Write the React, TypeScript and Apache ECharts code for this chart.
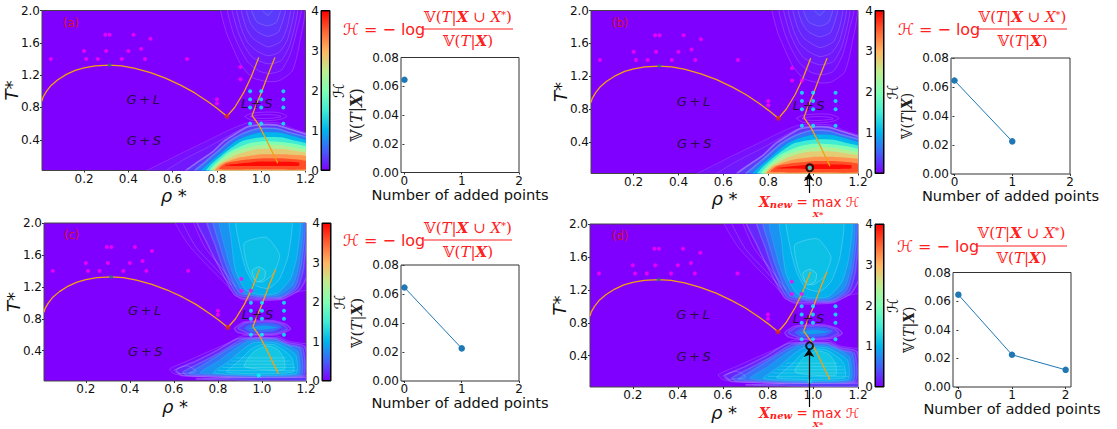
import React, { useEffect, useRef } from "react";
import * as echarts from "echarts";

type P = [number, number];
type Ring = { level: number; pts: P[]; stroke?: number; w?: number };

const rainbowStops = ["#8000ff", "#4062fa", "#00b5eb", "#40ecd4", "#80ffb4", "#bfec8e", "#ffb562", "#ff6232", "#ff0000"];
const rhoTicks = [0.2, 0.4, 0.6, 0.8, 1.0, 1.2];
const tempTicks = [0.4, 0.8, 1.2, 1.6, 2.0];
const cbarTicks = [0, 1, 2, 3, 4];
const addedTicks = [0, 1, 2];
const varTicks = [0, 0.02, 0.04, 0.06, 0.08];
const varianceRun = [0.0645, 0.0225, 0.012];

const magentaPts: P[] = [[0.05,1.4],[0.2,1.5],[0.21,1.4],[0.262,1.4],[0.296,1.7],[0.316,1.7],[0.3,1.5],[0.37,1.4],[0.4,1.5],[0.423,1.7],[0.458,1.525],[0.475,1.4],[0.5,1.65],[0.665,1.4],[0.8,0.9],[0.8,0.85],[0.906,1.3],[0.906,1.15]];
const magentaExtra: P[] = [[0.95,1.15]];
const cyanPts: P[] = [[0.95,1.0],[1.0,1.0],[1.1,1.0],[0.95,0.9],[1.0,0.9],[1.1,0.9],[0.95,0.8],[1.0,0.8],[1.1,0.8],[0.95,0.6],[1.0,0.6],[1.1,0.6]];
const cyanExtra: P[] = [[0.985,0.09]];
const criticalPt: P = [0.315, 1.325];
const triplePt: P = [0.845, 0.69];
const binodal: P[] = [[0.01,0.88],[0.015,0.93],[0.03,1.0],[0.05,1.07],[0.08,1.14],[0.12,1.21],[0.16,1.26],[0.2,1.29],[0.25,1.315],[0.315,1.325],[0.37,1.315],[0.43,1.285],[0.5,1.23],[0.57,1.16],[0.64,1.07],[0.7,0.98],[0.76,0.87],[0.8,0.79],[0.845,0.69]];
const liquidus: P[] = [[0.845,0.69],[0.88,0.8],[0.92,0.98],[0.955,1.18],[0.989,1.42]];
const solidus: P[] = [[1.062,1.42],[1.03,1.2],[1.0,0.98],[0.975,0.82],[0.959,0.7],[0.99,0.58],[1.02,0.42],[1.05,0.25],[1.075,0.11]];
const phaseLabels: { t: string; p: P }[] = [{ t: "G\u2009+\u2009L", p: [0.467, 0.9] }, { t: "G\u2009+\u2009S", p: [0.47, 0.39] }, { t: "L\u2009+\u2009S", p: [0.98, 0.85] }];

const fieldA: Ring[] = [
  { level: 0.08, stroke: 0.2, pts: [[0.42,-0.1],[0.6,0.18],[0.75,0.38],[0.87,0.54],[0.94,0.61],[1.08,0.61],[1.14,0.54],[1.2,0.49],[1.3,0.42],[1.3,-0.1]] },
  { level: 0.12, stroke: 0.2, pts: [[0.52,-0.1],[0.64,0.14],[0.76,0.31],[0.84,0.43],[0.9,0.52],[0.96,0.59],[1.07,0.59],[1.13,0.53],[1.2,0.48],[1.3,0.41],[1.3,-0.1]] },
  { level: 0.3, stroke: 0.3, w: 1.6, pts: [[0.62,-0.1],[0.66,0.02],[0.7,0.1],[0.78,0.25],[0.83,0.38],[0.875,0.46],[0.94,0.56],[1.0,0.585],[1.07,0.58],[1.13,0.53],[1.2,0.47],[1.3,0.4],[1.3,-0.1]] },
  { level: 0.6, stroke: 0.2, w: 1.6, pts: [[0.66,-0.1],[0.7,0.02],[0.735,0.1],[0.8,0.25],[0.855,0.38],[0.91,0.47],[0.97,0.53],[1.0,0.545],[1.07,0.54],[1.13,0.49],[1.2,0.44],[1.3,0.38],[1.3,-0.1]] },
  { level: 1.0, pts: [[0.7,-0.1],[0.73,0.02],[0.76,0.1],[0.825,0.25],[0.883,0.38],[0.94,0.45],[1.0,0.49],[1.08,0.49],[1.14,0.45],[1.2,0.4],[1.3,0.33],[1.3,-0.1]] },
  { level: 1.5, pts: [[0.72,-0.1],[0.75,0.02],[0.775,0.1],[0.84,0.25],[0.91,0.38],[0.97,0.42],[1.02,0.435],[1.09,0.43],[1.15,0.39],[1.2,0.36],[1.3,0.3],[1.3,-0.1]] },
  { level: 2.0, pts: [[0.74,-0.1],[0.765,0.02],[0.79,0.1],[0.855,0.25],[0.94,0.35],[1.0,0.38],[1.08,0.375],[1.15,0.35],[1.2,0.32],[1.3,0.26],[1.3,-0.1]] },
  { level: 2.4, pts: [[0.75,-0.1],[0.775,0.02],[0.8,0.1],[0.87,0.24],[0.95,0.31],[1.02,0.34],[1.1,0.33],[1.2,0.28],[1.3,0.22],[1.3,-0.1]] },
  { level: 2.8, pts: [[0.76,-0.1],[0.785,0.02],[0.81,0.1],[0.885,0.21],[0.97,0.28],[1.03,0.29],[1.1,0.285],[1.2,0.24],[1.3,0.18],[1.3,-0.1]] },
  { level: 3.2, pts: [[0.77,-0.1],[0.79,0.02],[0.82,0.1],[0.9,0.18],[1.0,0.22],[1.1,0.22],[1.2,0.2],[1.3,0.14],[1.3,-0.1]] },
  { level: 3.6, pts: [[0.81,0.04],[0.84,0.11],[0.92,0.15],[1.0,0.17],[1.1,0.17],[1.2,0.14],[1.22,0.04],[1.0,0.035]] },
  { level: 3.95, pts: [[0.84,0.09],[1.0,0.13],[1.17,0.12],[1.17,0.08],[1.0,0.075],[0.84,0.08]] },
  { level: 0.04, stroke: 0.25, pts: [[0.82,2.1],[0.84,1.75],[0.87,1.55],[0.91,1.32],[0.96,1.17],[1.03,1.12],[1.08,1.13],[1.14,1.25],[1.17,1.55],[1.19,2.1]] },
  { level: 0.08, stroke: 0.25, pts: [[0.85,2.1],[0.87,1.75],[0.9,1.55],[0.94,1.36],[0.99,1.25],[1.04,1.22],[1.09,1.26],[1.13,1.45],[1.16,1.75],[1.18,2.1]] },
  { level: 0.12, stroke: 0.25, pts: [[0.87,2.1],[0.89,1.78],[0.92,1.58],[0.96,1.42],[1.03,1.34],[1.09,1.38],[1.13,1.58],[1.16,2.1]] },
  { level: 0.16, stroke: 0.25, pts: [[0.89,2.1],[0.91,1.78],[0.94,1.6],[0.98,1.5],[1.03,1.44],[1.08,1.48],[1.12,1.65],[1.145,2.1]] },
  { level: 0.2, stroke: 0.25, pts: [[0.91,2.1],[0.93,1.8],[0.96,1.66],[1.03,1.55],[1.09,1.62],[1.12,1.82],[1.13,2.1]] },
  { level: 0.25, stroke: 0.25, pts: [[0.93,2.1],[0.95,1.85],[0.98,1.74],[1.03,1.68],[1.08,1.74],[1.11,2.1]] },
  { level: 0.3, stroke: 0.25, pts: [[0.95,2.1],[0.98,1.86],[1.03,1.81],[1.07,1.86],[1.09,2.1]] },
  { level: 0.34, stroke: 0.25, pts: [[0.98,2.1],[1.03,1.94],[1.07,2.1]] },
];
const linesA: P[][] = [
  [[0.925,0.69],[0.96,0.73],[1.07,0.74],[1.115,0.69],[1.07,0.645],[0.96,0.64],[0.925,0.69]],
  [[0.95,0.69],[1.0,0.71],[1.07,0.705],[1.09,0.685],[1.03,0.665],[0.97,0.67],[0.95,0.69]],
];

const fieldC: Ring[] = [
  { level: 0.04, stroke: 0.22, pts: [[0.6,2.1],[0.66,1.75],[0.74,1.5],[0.83,1.25],[0.91,1.04],[1.09,1.04],[1.14,1.12],[1.3,1.25],[1.3,2.1]] },
  { level: 0.2, stroke: 0.2, w: 1.4, pts: [[0.7,2.1],[0.75,1.75],[0.81,1.42],[0.875,1.1],[0.92,1.05],[1.09,1.05],[1.17,1.16],[1.2,1.3],[1.3,2.1]] },
  { level: 0.4, stroke: 0.15, w: 1.4, pts: [[0.75,2.1],[0.79,1.7],[0.83,1.4],[0.89,1.1],[1.08,1.06],[1.16,1.18],[1.19,1.45],[1.19,2.1]] },
  { level: 0.6, stroke: 0.12, w: 1.2, pts: [[0.78,2.1],[0.81,1.7],[0.85,1.38],[0.9,1.12],[1.08,1.07],[1.15,1.2],[1.18,1.5],[1.185,2.1]] },
  { level: 0.8, stroke: 0.12, pts: [[0.81,2.1],[0.84,1.6],[0.87,1.35],[0.92,1.12],[1.07,1.09],[1.14,1.22],[1.17,1.5],[1.175,2.1]] },
  { level: 0.98, stroke: 0.2, pts: [[0.855,2.1],[0.86,1.8],[0.88,1.4],[0.93,1.15],[1.0,1.1],[1.07,1.12],[1.13,1.3],[1.16,1.6],[1.165,2.1]] },
  { level: 1.05, stroke: 0.3, pts: [[0.885,2.1],[0.9,1.7],[0.93,1.4],[0.97,1.22],[1.03,1.18],[1.08,1.3],[1.12,1.6],[1.13,2.1]] },
  { level: 1.1, stroke: 0.3, pts: [[0.92,1.75],[0.93,1.5],[0.96,1.3],[1.0,1.26],[1.05,1.36],[1.08,1.6],[1.02,1.82]] },
  { level: 1.15, stroke: 0.35, pts: [[0.955,1.4],[0.975,1.26],[1.01,1.3],[1.015,1.4],[0.985,1.45]] },
  { level: 0.1, stroke: 0.2, w: 1.4, pts: [[0.875,0.68],[0.92,0.76],[1.05,0.775],[1.11,0.73],[1.13,0.67],[1.08,0.61],[0.95,0.6],[0.89,0.63]] },
  { level: 0.3, stroke: 0.15, w: 1.4, pts: [[0.89,0.68],[0.93,0.75],[1.05,0.76],[1.1,0.72],[1.115,0.67],[1.07,0.62],[0.95,0.61]] },
  { level: 0.55, pts: [[0.92,0.68],[0.95,0.735],[1.05,0.74],[1.09,0.7],[1.05,0.64],[0.95,0.63]] },
  { level: 0.85, pts: [[0.94,0.68],[1.0,0.715],[1.07,0.69],[1.0,0.66]] },
  { level: 0.06, stroke: 0.22, pts: [[0.58,0.17],[0.66,0.27],[0.75,0.38],[0.85,0.5],[0.91,0.585],[1.07,0.585],[1.12,0.52],[1.3,0.42],[1.3,0.08],[0.9,0.075],[0.68,0.08],[0.6,0.11]] },
  { level: 0.2, stroke: 0.2, w: 1.4, pts: [[0.61,0.16],[0.7,0.27],[0.8,0.41],[0.89,0.55],[1.07,0.56],[1.12,0.5],[1.195,0.45],[1.195,0.08],[0.64,0.085]] },
  { level: 0.4, stroke: 0.15, w: 1.4, pts: [[0.64,0.13],[0.72,0.25],[0.81,0.38],[0.91,0.54],[1.06,0.55],[1.12,0.48],[1.185,0.43],[1.185,0.085],[0.66,0.09]] },
  { level: 0.6, stroke: 0.12, w: 1.2, pts: [[0.67,0.11],[0.73,0.22],[0.8,0.34],[0.88,0.47],[0.94,0.54],[1.06,0.54],[1.12,0.47],[1.175,0.42],[1.175,0.09]] },
  { level: 0.8, stroke: 0.12, pts: [[0.72,0.12],[0.8,0.27],[0.87,0.41],[0.94,0.52],[1.06,0.52],[1.13,0.45],[1.165,0.38],[1.165,0.1]] },
  { level: 0.95, stroke: 0.2, pts: [[0.78,0.12],[0.85,0.27],[0.91,0.41],[0.96,0.5],[1.06,0.5],[1.12,0.42],[1.155,0.34],[1.155,0.11]] },
  { level: 1.05, stroke: 0.25, pts: [[0.84,0.13],[0.9,0.28],[0.95,0.42],[1.0,0.48],[1.06,0.47],[1.12,0.36],[1.14,0.28],[1.14,0.13]] },
  { level: 1.15, stroke: 0.25, pts: [[0.92,0.2],[0.96,0.38],[1.02,0.46],[1.07,0.42],[1.1,0.3],[1.1,0.16]] },
  { level: 0.3, stroke: 0.2, w: 1, pts: [[0.7,0.045],[0.9,0.06],[1.3,0.06],[1.3,0.025],[0.9,0.03]] },
];
const linesC: P[][] = [
  [[0.8,0.15],[1.16,0.15]], [[0.82,0.19],[1.15,0.19]], [[0.84,0.23],[1.14,0.23]], [[0.86,0.27],[1.13,0.27]], [[0.88,0.31],[1.11,0.31]],
  [[0.6,0.155],[0.66,0.21],[0.7,0.14],[0.62,0.115],[0.6,0.155]],
  [[0.64,2.0],[0.7,1.7],[0.78,1.46],[0.86,1.22]],
  [[0.69,2.0],[0.74,1.7],[0.81,1.46],[0.88,1.2]],
];

function cmap(v: number) {
  const t = Math.max(0, Math.min(1, v / 4)) * (rainbowStops.length - 1);
  const i = Math.min(rainbowStops.length - 2, Math.floor(t));
  const f = t - i;
  const hex = (s: string, k: number) => parseInt(s.substr(1 + k * 2, 2), 16);
  const ch = (k: number) => Math.round(hex(rainbowStops[i], k) * (1 - f) + hex(rainbowStops[i + 1], k) * f);
  return `rgb(${ch(0)},${ch(1)},${ch(2)})`;
}

type Panel = {
  tag: string;
  main: number[]; cbar: number[]; line: number[];
  field: Ring[]; lines: P[][];
  run: number; xr: [number, number]; varSize: number;
  extra: boolean;
  ring?: P; arrow?: number[];
  tagPos: number[]; eq: number[]; xn?: number[];
};

const panels: Panel[] = [
  { tag: "(a)", main: [42,10.5,263.5,160], cbar: [321,10.5,9,160], line: [401,57.5,118,115], field: fieldA, lines: linesA, run: 1, xr: [-0.06,2], varSize: 16, extra: false, tagPos: [63,23], eq: [343,17,29,41,423,513] },
  { tag: "(b)", main: [591,10.5,267,163], cbar: [875,10.5,9,163], line: [951,58,119,116], field: fieldA, lines: linesA, run: 2, xr: [-0.06,2], varSize: 14, extra: true, ring: [0.985,0.09], arrow: [809,193,809,173], tagPos: [612,23], eq: [898,17,29,41,978,1067], xn: [759,202] },
  { tag: "(c)", main: [44,223,262,158], cbar: [322,223,9,158], line: [401,265,118,116], field: fieldC, lines: linesC, run: 2, xr: [-0.06,2], varSize: 15, extra: true, tagPos: [64,235], eq: [343,228,240,252,424,512] },
  { tag: "(d)", main: [590,224,268,163], cbar: [875,224,9,163], line: [953,272.5,118,114.5], field: fieldC, lines: linesC, run: 3, xr: [-0.1,2.1], varSize: 14, extra: true, ring: [0.985,0.52], arrow: [809,407,809,349], tagPos: [612,236], eq: [897,233,246,258,976,1067], xn: [759,412.5] },
];

const SANS = "DejaVu Sans";
const SERIF = "DejaVu Serif";
const RED = "#ff2020";
const tickLabel = { fontFamily: SANS, fontSize: 12, color: "#111", margin: 2 };

function buildOption() {
  const grid: any[] = [], xAxis: any[] = [], yAxis: any[] = [], series: any[] = [], graphic: any[] = [];
  panels.forEach((p) => {
    const gi = grid.length;
    const [mx, my, mw, mh] = p.main;
    const [cx, cy, cw, ch] = p.cbar;
    const [lx, ly, lw, lh] = p.line;
    grid.push({ left: mx, top: my, width: mw, height: mh, show: true, backgroundColor: "#8000ff", borderColor: "#444", borderWidth: 1, z: 0 });
    grid.push({ left: cx, top: cy, width: cw, height: ch, show: true, borderColor: "#000", borderWidth: 1, backgroundColor: "transparent" });
    grid.push({ left: lx, top: ly, width: lw, height: lh, show: true, borderColor: "#333", borderWidth: 1, backgroundColor: "#fff" });

    xAxis.push({
      gridIndex: gi, type: "value", min: 0.01, max: 1.2, splitLine: { show: false }, axisLine: { show: false },
      axisTick: { show: true, length: 2, customValues: rhoTicks, lineStyle: { color: "#333" } },
      axisLabel: { ...tickLabel, customValues: rhoTicks, formatter: (v: number) => v.toFixed(1) },
      name: "ρ *", nameLocation: "middle", nameGap: 16, nameMoveOverlap: false,
      nameTextStyle: { fontFamily: SANS, fontStyle: "italic", fontSize: 18, color: "#111" },
    });
    yAxis.push({
      gridIndex: gi, type: "value", min: 0.02, max: 2, splitLine: { show: false }, axisLine: { show: false },
      axisTick: { show: true, length: 2, customValues: tempTicks, lineStyle: { color: "#333" } },
      axisLabel: { ...tickLabel, customValues: tempTicks, formatter: (v: number) => v.toFixed(1) },
      name: "T*", nameLocation: "middle", nameGap: 22, nameMoveOverlap: false,
      nameTextStyle: { fontFamily: SANS, fontStyle: "italic", fontSize: 18, color: "#111" },
    });
    xAxis.push({ gridIndex: gi + 1, type: "category", data: ["H"], show: false, boundaryGap: true });
    yAxis.push({
      gridIndex: gi + 1, type: "value", position: "left", min: 0, max: 4, interval: 1, splitLine: { show: false }, axisLine: { show: false },
      axisTick: { show: false }, axisLabel: { ...tickLabel, margin: 2, customValues: cbarTicks },
      name: "ℋ", nameLocation: "middle", nameGap: -25, nameRotate: 90, nameMoveOverlap: false,
      nameTextStyle: { fontFamily: SANS, fontSize: 15, color: "#111" },
    });
    xAxis.push({
      gridIndex: gi + 2, type: "value", min: p.xr[0], max: p.xr[1], splitLine: { show: false }, axisLine: { show: false },
      axisTick: { show: true, length: 2, customValues: addedTicks, lineStyle: { color: "#333" } },
      axisLabel: { ...tickLabel, customValues: addedTicks },
      name: "Number of added points", nameLocation: "middle", nameGap: 14, nameMoveOverlap: false,
      nameTextStyle: { fontFamily: SANS, fontSize: 14.6, color: "#111" },
    });
    yAxis.push({
      gridIndex: gi + 2, type: "value", min: 0, max: 0.08, interval: 0.02, splitLine: { show: false }, axisLine: { show: false },
      axisTick: { show: true, length: 2, customValues: varTicks, lineStyle: { color: "#333" } },
      axisLabel: { ...tickLabel, customValues: varTicks, formatter: (v: number) => v.toFixed(2) },
      name: "{a|𝕍(}{i|T}{a||}{b|X}{a|)}", nameLocation: "middle", nameGap: 37, nameMoveOverlap: false,
      nameTextStyle: {
        rich: {
          a: { fontFamily: SERIF, fontSize: p.varSize, color: "#222" },
          i: { fontFamily: SERIF, fontStyle: "italic", fontSize: p.varSize, color: "#222" },
          b: { fontFamily: SERIF, fontStyle: "italic", fontWeight: "bold", fontSize: p.varSize, color: "#222" },
        },
      },
    });

    const ax = { xAxisIndex: gi, yAxisIndex: gi };
    series.push({
      type: "custom", ...ax, clip: true, silent: true, z: 1,
      data: p.field.map((_, i) => [i]),
      encode: { x: -1, y: -1 },
      renderItem: (params: any, api: any) => {
        const r = p.field[params.dataIndex];
        return {
          type: "polygon",
          shape: { points: r.pts.map((q) => api.coord(q)), smooth: 0.2 },
          style: { fill: cmap(r.level), stroke: r.stroke ? `rgba(255,255,255,${r.stroke})` : "none", lineWidth: r.w ?? 0.7 },
        };
      },
    });
    series.push({
      type: "custom", ...ax, clip: true, silent: true, z: 2,
      data: p.lines.map((_, i) => [i]),
      encode: { x: -1, y: -1 },
      renderItem: (params: any, api: any) => ({
        type: "polyline",
        shape: { points: p.lines[params.dataIndex].map((q) => api.coord(q)), smooth: 0.3 },
        style: { fill: "none", stroke: "rgba(255,255,255,0.25)", lineWidth: 0.7 },
      }),
    });
    [binodal, liquidus, solidus].forEach((d) =>
      series.push({ type: "line", ...ax, data: d, showSymbol: false, smooth: false, clip: true, z: 3, lineStyle: { color: "#f5a010", width: 1.3 } })
    );
    series.push({ type: "scatter", ...ax, z: 4, symbolSize: 4, data: p.extra ? [...magentaPts, ...magentaExtra] : magentaPts, itemStyle: { color: "#ff00ff" } });
    series.push({ type: "scatter", ...ax, z: 4, symbolSize: 4, data: p.extra ? [...cyanPts, ...cyanExtra] : cyanPts, itemStyle: { color: "#00ffff" } });
    series.push({ type: "scatter", ...ax, z: 5, symbolSize: 4, data: [criticalPt], itemStyle: { color: "#2a5f9e" } });
    series.push({ type: "scatter", ...ax, z: 5, symbolSize: 5, data: [triplePt], itemStyle: { color: "#d22a1e" } });
    series.push({
      type: "scatter", ...ax, z: 6, symbolSize: 0, data: phaseLabels.map((l) => ({ value: l.p, name: l.t })),
      label: { show: true, position: "inside", formatter: (o: any) => o.name, fontFamily: SANS, fontStyle: "italic", fontSize: 13, color: "#111" },
      silent: true,
    });
    if (p.ring) {
      series.push({
        type: "scatter", ...ax, z: 7, symbolSize: 7, data: [p.ring],
        itemStyle: { color: "transparent", borderColor: "#000", borderWidth: 2 },
        markLine: {
          silent: true, symbol: ["none", "arrow"], symbolSize: 8, label: { show: false },
          lineStyle: { color: "#000", width: 1.2, type: "solid" },
          data: [[{ x: p.arrow![0], y: p.arrow![1] }, { x: p.arrow![2], y: p.arrow![3] }]],
        },
      });
    }

    const bar = new echarts.graphic.LinearGradient(0, 1, 0, 0, rainbowStops.map((c, i) => ({ offset: i / (rainbowStops.length - 1), color: c })));
    series.push({ type: "bar", xAxisIndex: gi + 1, yAxisIndex: gi + 1, data: [cbarTicks[4]], barWidth: "100%", itemStyle: { color: bar, borderColor: "#000", borderWidth: 1 }, silent: true });

    series.push({
      type: "line", xAxisIndex: gi + 2, yAxisIndex: gi + 2, clip: false,
      data: varianceRun.slice(0, p.run).map((v, i) => [i, v]),
      symbol: "circle", symbolSize: 6.5, showSymbol: true,
      lineStyle: { color: "#1f77b4", width: 1 }, itemStyle: { color: "#1f77b4" },
    });

    graphic.push({ type: "text", x: p.tagPos[0], y: p.tagPos[1], z: 20, style: { text: p.tag, fill: "#d8102a", font: `11.5px "${SANS}"`, verticalAlign: "middle" } });
    const [qx, numY, lineY, denY, fx0, fx1] = p.eq;
    const eqRich = {
      a: { fontFamily: SERIF, fontSize: 15, fill: RED, color: RED },
      i: { fontFamily: SERIF, fontStyle: "italic", fontSize: 15, fill: RED, color: RED },
      b: { fontFamily: SERIF, fontStyle: "italic", fontWeight: "bold", fontSize: 15, fill: RED, color: RED },
      s: { fontFamily: SERIF, fontSize: 10, fill: RED, color: RED, padding: [0, 0, 5, 0] },
    };
    const fmid = (fx0 + fx1) / 2;
    graphic.push({ type: "text", x: qx, y: lineY, z: 20, style: { text: "ℋ = − log", fill: RED, font: `16px "${SANS}"`, verticalAlign: "middle", align: "left" } });
    graphic.push({ type: "line", z: 20, shape: { x1: fx0, y1: lineY, x2: fx1, y2: lineY }, style: { stroke: RED, lineWidth: 1 } });
    graphic.push({ type: "text", x: fmid, y: numY, z: 20, style: { text: "{a|𝕍(}{i|T}{a||}{b|X}{a| ∪ }{i|X}{s|*}{a|)}", rich: eqRich, align: "center", verticalAlign: "middle" } });
    graphic.push({ type: "text", x: fmid, y: denY, z: 20, style: { text: "{a|𝕍(}{i|T}{a||}{b|X}{a|)}", rich: eqRich, align: "center", verticalAlign: "middle" } });
    if (p.xn) {
      const small = { ...eqRich,
        m: { fontFamily: SANS, fontSize: 13.5, lineHeight: 13, fill: RED, color: RED },
        x: { fontFamily: SERIF, fontStyle: "italic", fontWeight: "bold", fontSize: 14, lineHeight: 13, fill: RED, color: RED },
        c: { fontFamily: SERIF, fontStyle: "italic", fontWeight: "bold", fontSize: 10, lineHeight: 13, fill: RED, color: RED, padding: [5, 0, 0, 0] } };
      graphic.push({ type: "text", x: p.xn[0], y: p.xn[1], z: 20, style: { text: "{x|X}{c|new}{m| = max ℋ}", rich: small, verticalAlign: "middle" } });
      graphic.push({ type: "text", x: p.xn[0] + 59, y: p.xn[1] + 11.5, z: 20, style: { text: "X*", fill: RED, font: `italic bold 8px "${SERIF}"`, align: "center", verticalAlign: "middle" } });
    }
  });
  return { animation: false, backgroundColor: "#fff", grid, xAxis, yAxis, series, graphic, tooltip: { show: false } };
}

export default function App() {
  const ref = useRef<HTMLDivElement>(null);
  useEffect(() => {
    const chart = echarts.init(ref.current!, null, { renderer: "svg" });
    chart.setOption(buildOption());
    return () => chart.dispose();
  }, []);
  return <div ref={ref} style={{ position: "absolute", left: 0, top: 0, width: 1117, height: 429 }} />;
}
